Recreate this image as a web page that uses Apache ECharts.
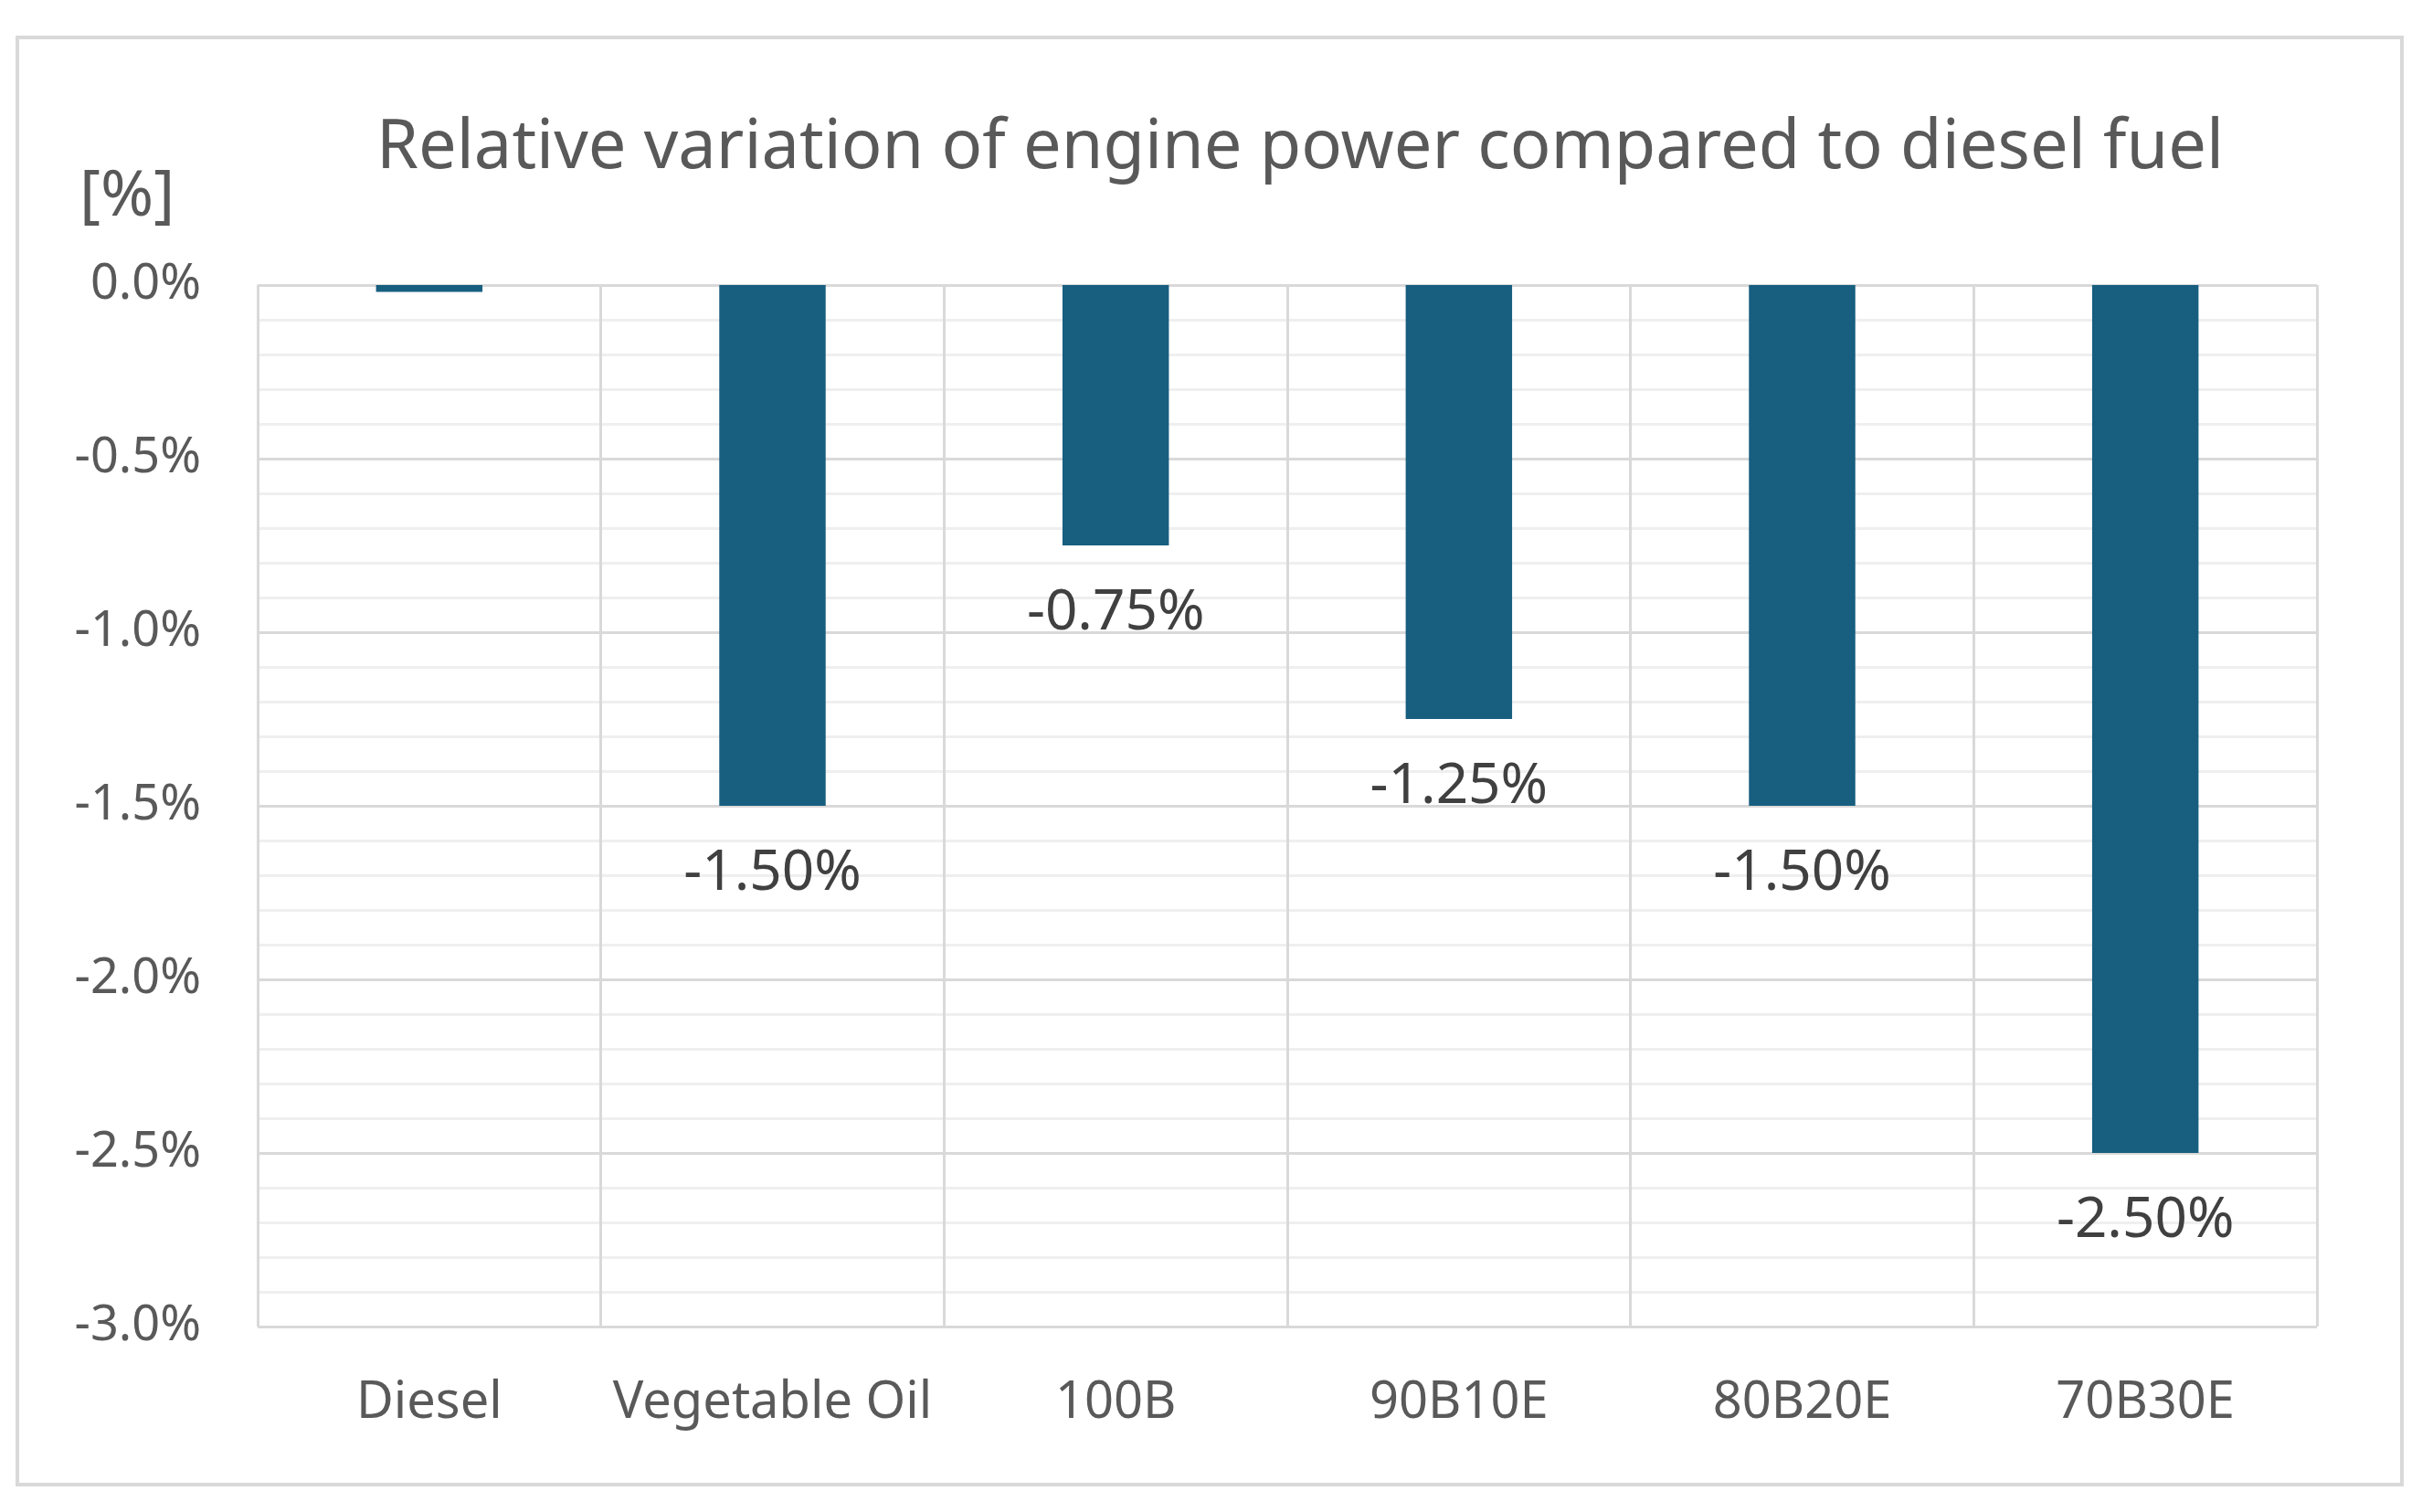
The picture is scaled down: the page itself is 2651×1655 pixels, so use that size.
<!DOCTYPE html>
<html>
<head>
<meta charset="utf-8">
<script src="https://cdn.jsdelivr.net/npm/echarts@6/dist/echarts.min.js"></script>
<style>html,body{margin:0;padding:0;background:#fff}#c{width:2651px;height:1655px}</style>
</head>
<body>
<div id="c"></div>
<script>
const categories = ['Diesel', 'Vegetable Oil', '100B', '90B10E', '80B20E', '70B30E'];
const powerVariation = [-0.02, -1.50, -0.75, -1.25, -1.50, -2.50];
const showLabel = [false, true, true, true, true, true];
const yTicks = [0, -0.5, -1.0, -1.5, -2.0, -2.5, -3.0];
const titleText = 'Relative variation of engine power compared to diesel fuel';
const unitText = '[%]';

const chart = echarts.init(document.getElementById('c'), null, {renderer: 'canvas'});
const font = 'Noto Sans';
chart.setOption({
  backgroundColor: '#ffffff',
  animation: false,
  title: [
    {text: titleText, left: 1418, top: 121, textAlign: 'center',
     textStyle: {fontFamily: font, fontSize: 74, fontWeight: 'normal', color: '#595959'}},
    {text: unitText, left: 82, top: 176,
     textStyle: {fontFamily: font, fontSize: 70, fontWeight: 'normal', color: '#595959'}}
  ],
  graphic: [{type: 'rect', shape: {x: 19, y: 41, width: 2610, height: 1584},
    style: {fill: 'none', stroke: '#d9d9d9', lineWidth: 4}, silent: true, z: -1}],
  grid: {left: 282, right: 115, top: 312, bottom: 203},
  xAxis: {
    type: 'category', data: categories,
    axisLine: {show: false}, axisTick: {show: false},
    axisLabel: {interval: 0, fontFamily: font, fontSize: 56, color: '#595959', margin: 56},
    splitLine: {show: true, interval: 0, lineStyle: {color: '#d9d9d9', width: 3}}
  },
  yAxis: {
    type: 'value', min: -3, max: 0, interval: 0.5,
    axisLine: {show: false}, axisTick: {show: false},
    axisLabel: {fontFamily: font, fontSize: 54, color: '#595959', margin: 62,
      formatter: v => (Math.abs(v) < 1e-9 ? 0 : v).toFixed(1) + '%'},
    splitLine: {show: true, lineStyle: {color: '#d9d9d9', width: 3}},
    minorTick: {show: false, splitNumber: 5},
    minorSplitLine: {show: true, lineStyle: {color: '#efefef', width: 3}}
  },
  series: [{
    type: 'bar',
    data: powerVariation.map((v, i) => ({value: v, label: {show: showLabel[i]}})),
    barWidth: '31%',
    itemStyle: {color: '#175e7f'},
    label: {show: true, position: 'bottom', distance: 43,
      fontFamily: font, fontSize: 62, color: '#404040',
      formatter: p => p.value.toFixed(2) + '%'}
  }]
});
</script>
</body>
</html>
